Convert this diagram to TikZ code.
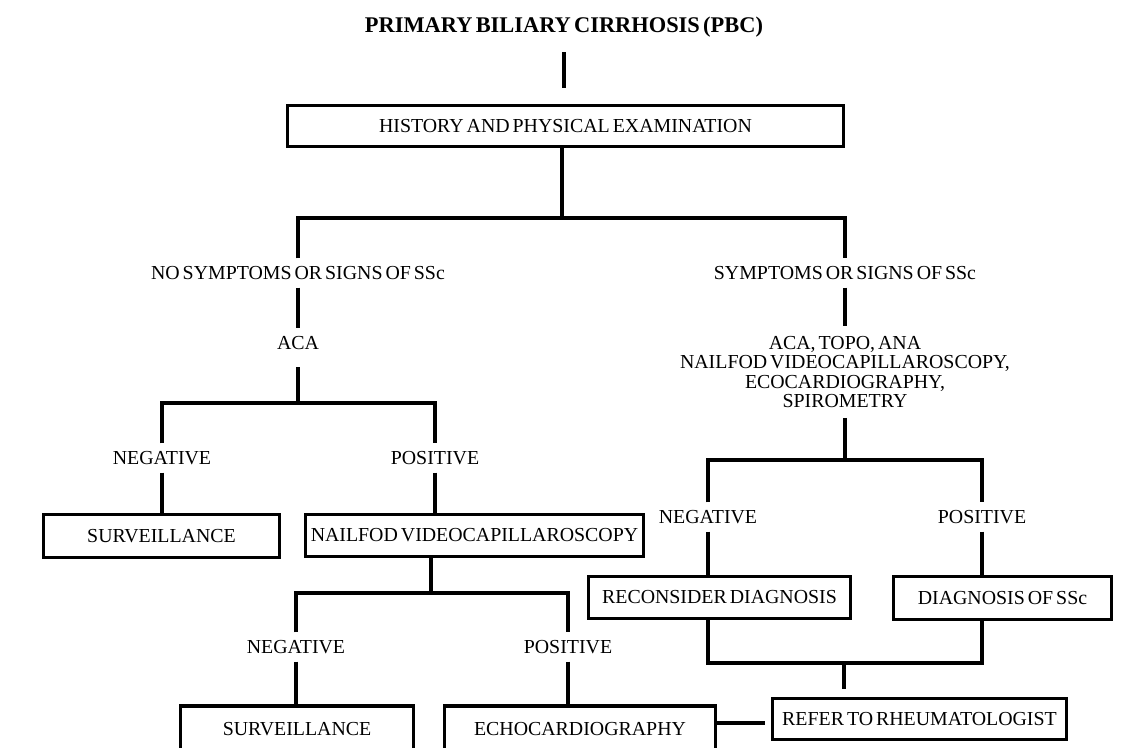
\documentclass[tikz,border=0pt]{standalone}
\usepackage{fontspec}
\setmainfont{Liberation Serif}[WordSpace=0.6]
\newcommand\fs{\fontsize{14.9pt}{14.6pt}\selectfont}
\newcommand\tfs{\fontsize{16.8pt}{18pt}\selectfont\bfseries}
\begin{document}
\begin{tikzpicture}[x=0.75pt,y=-0.75pt,
  box/.style={draw, line width=2.4pt, inner sep=0pt, font=\fs},
  lbl/.style={inner sep=0pt, outer sep=6pt, font=\fs, text height=9.9pt, text depth=0pt},
  conn/.style={line width=3pt}]
\useasboundingbox (0,0) rectangle (1143,747);
% title and first box
\node[inner sep=0pt, outer sep=15pt, font=\tfs, text height=11.1pt, text depth=0pt] (title) at (564,25) {PRIMARY BILIARY CIRRHOSIS (PBC)};
\node[box, minimum width=417pt, minimum height=31pt] (hist) at (565.5,126) {HISTORY AND PHYSICAL EXAMINATION};
\draw[conn, shorten >=12pt] (title.south) -- (title.south |- hist.north);
% first split
\coordinate (j1) at (562,218);
\coordinate (jl) at (298,218);
\coordinate (jr) at (845,218);
\node[lbl] (nos) at (298,273) {NO SYMPTOMS OR SIGNS OF SSc};
\node[lbl] (sym) at (845,273) {SYMPTOMS OR SIGNS OF SSc};
\draw[conn] (j1 |- hist.south) -- (j1);
\draw[conn] (nos.north) -- (jl) -- (jr) -- (sym.north);
% left branch
\node[lbl] (aca) at (298,343) {ACA};
\draw[conn] (nos.south) -- (aca.north);
\coordinate (ja) at (298,403);
\coordinate (ja1) at (162,403);
\coordinate (ja2) at (435,403);
\draw[conn, shorten >=7pt] (ja) -- (aca.south);
\node[lbl] (neg1) at (162,458) {NEGATIVE};
\node[lbl] (pos1) at (435,458) {POSITIVE};
\draw[conn] (neg1.north) -- (ja1) -- (ja2) -- (pos1.north);
\node[box, minimum width=177pt, minimum height=32pt] (surv1) at (161.5,536) {SURVEILLANCE};
\node[box, minimum width=253.5pt, minimum height=31.5pt] (nail) at (474.5,535.5) {NAILFOD VIDEOCAPILLAROSCOPY};
\draw[conn] (neg1.south) -- (neg1.south |- surv1.north);
\draw[conn] (pos1.south) -- (pos1.south |- nail.north);
\coordinate (jn) at (431,593);
\coordinate (jn1) at (296,593);
\coordinate (jn2) at (568,593);
\draw[conn] (jn |- nail.south) -- (jn);
\node[lbl] (neg2) at (296,647) {NEGATIVE};
\node[lbl] (pos2) at (568,647) {POSITIVE};
\draw[conn] (neg2.north) -- (jn1) -- (jn2) -- (pos2.north);
\node[box, minimum width=175pt, minimum height=34.5pt] (surv2) at (297,729) {SURVEILLANCE};
\node[box, minimum width=203pt, minimum height=34.5pt] (echo) at (580,729) {ECHOCARDIOGRAPHY};
\draw[conn] (neg2.south) -- (neg2.south |- surv2.north);
\draw[conn] (pos2.south) -- (pos2.south |- echo.north);
% right branch
\node[align=center, inner sep=0pt, outer sep=7.5pt, font=\fs] (tests) at (845,372)
  {ACA, TOPO, ANA\\NAILFOD VIDEOCAPILLAROSCOPY,\\ECOCARDIOGRAPHY,\\SPIROMETRY};
\draw[conn] (sym.south) -- (tests.north);
\coordinate (jt) at (845,460);
\coordinate (jt1) at (708,460);
\coordinate (jt2) at (982,460);
\draw[conn] (tests.south) -- (jt);
\node[lbl] (neg3) at (708,517) {NEGATIVE};
\node[lbl] (pos3) at (982,517) {POSITIVE};
\draw[conn] (neg3.north) -- (jt1) -- (jt2) -- (pos3.north);
\node[box, minimum width=196pt, minimum height=31.5pt] (recon) at (719.5,597.5) {RECONSIDER DIAGNOSIS};
\node[box, minimum width=164pt, minimum height=32pt] (diag) at (1002.5,598) {DIAGNOSIS OF SSc};
\draw[conn] (neg3.south) -- (neg3.south |- recon.north);
\draw[conn] (pos3.south) -- (pos3.south |- diag.north);
\coordinate (jd) at (844,663);
\coordinate (jd1) at (708,663);
\coordinate (jd2) at (982,663);
\draw[conn] (jd1 |- recon.south) -- (jd1) -- (jd2) -- (jd2 |- diag.south);
\node[box, minimum width=220pt, minimum height=30.5pt] (refer) at (919.5,719) {REFER TO RHEUMATOLOGIST};
\draw[conn, shorten >=6pt] (jd) -- (jd |- refer.north);
\coordinate (jc) at (0,723);
\draw[conn, shorten >=5pt] (echo.east |- jc) -- (refer.west |- jc);
\end{tikzpicture}
\end{document}
